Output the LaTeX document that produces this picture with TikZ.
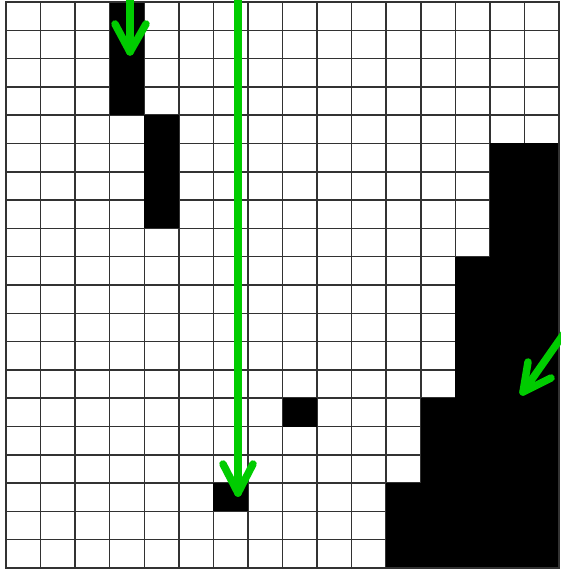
\documentclass[tikz,border=0pt]{standalone}
\begin{document}
\definecolor{arrowgreen}{RGB}{0,204,0}
\definecolor{gridgray}{RGB}{50,50,50}
\tikzset{
  gridline/.style={draw=gridgray, line width=1.5pt},
  arrowline/.style={draw=arrowgreen, line width=7.5pt, line cap=round, line join=round},
}
\newcommand\cw{34.5625}
\newcommand\rh{28.3}
\newcommand\blk[4]{\fill[black] ({6+#1*\cw},{2+#2*\rh}) rectangle ({6+(#3+1)*\cw},{2+(#4+1)*\rh});}
\begin{tikzpicture}[x=1pt,y=-1pt]
\useasboundingbox (0,0) rectangle (561,572);
\fill[white] (0,0) rectangle (561,572);
% grid
\foreach \c in {0,...,16} \draw[gridline] ({6+\c*\cw},2) -- ({6+\c*\cw},568);
\foreach \r in {0,...,20} \draw[gridline] (6,{2+\r*\rh}) -- (559,{2+\r*\rh});
% black cells
\blk{3}{0}{3}{3}
\blk{4}{4}{4}{7}
\blk{14}{5}{15}{19}
\blk{13}{9}{13}{19}
\blk{12}{14}{12}{19}
\blk{11}{17}{11}{19}
\blk{8}{14}{8}{14}
\blk{6}{17}{6}{17}
\draw[gridline] (6,2) rectangle (559,568);
% arrows
\coordinate (s1) at (130,-6);
\coordinate (e1) at (130,52);
\coordinate (l1) at (115,24);
\coordinate (r1) at (146,24);
\draw[arrowline] (s1) -- (e1);
\draw[arrowline] (l1) -- (e1) -- (r1);
\coordinate (s2) at (238,-6);
\coordinate (e2) at (238,493);
\coordinate (l2) at (223,464);
\coordinate (r2) at (253,464);
\draw[arrowline] (s2) -- (e2);
\draw[arrowline] (l2) -- (e2) -- (r2);
\coordinate (s3) at (570,325);
\coordinate (e3) at (523,392);
\coordinate (l3) at (528,362);
\coordinate (r3) at (551,378);
\draw[arrowline] (s3) -- (e3);
\draw[arrowline] (l3) -- (e3) -- (r3);
\end{tikzpicture}
\end{document}
